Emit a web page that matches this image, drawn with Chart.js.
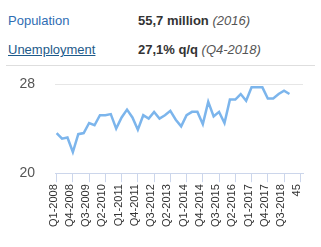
<!DOCTYPE html>
<html lang="en">
<head>
    <meta charset="UTF-8">
    <title>Unemployment</title>
    <script src="https://cdn.jsdelivr.net/npm/chart.js"></script>
    <style>
        body { margin: 0; background: #fff; font-family: "Liberation Sans", Arial, sans-serif; }
        .row { position: absolute; font-size: 13px; line-height: 15px; white-space: nowrap; }
        .name { left: 8px; color: #2f6db3; }
        .name.link { color: #1d5a8a; text-decoration: underline; }
        .val { left: 138px; color: #333; font-weight: bold; }
        .val i { font-weight: normal; color: #555; }
        #sep { position: absolute; left: 6px; width: 309px; top: 65px; height: 1px; background: #dedede; }
        #wrap { position: absolute; left: 0; top: 0; width: 321px; height: 247px; }
    </style>
</head>
<body>
    <div class="row name" style="top:13px">Population</div>
    <div class="row val" style="top:13px">55,7 million <i>(2016)</i></div>
    <div class="row name link" style="top:42px">Unemployment</div>
    <div class="row val" style="top:42px">27,1% q/q <i>(Q4-2018)</i></div>
    <div id="sep"></div>
    <div id="wrap"><canvas id="chart" width="321" height="247"></canvas></div>

    <script>
        // quarterly unemployment rate, %
        const quarters = [];
        for (let y = 2008; y <= 2018; y++) {
            for (let q = 1; q <= 4; q++) quarters.push('Q' + q + '-' + y);
        }
        const rates = [
            23.6, 23.1, 23.2, 21.9, 23.5, 23.6, 24.5, 24.3,
            25.2, 25.2, 25.3, 24.0, 25.0, 25.7, 25.0, 23.9,
            25.2, 24.9, 25.5, 24.9, 25.2, 25.6, 24.8, 24.2,
            25.2, 25.5, 25.5, 24.4, 26.4, 25.1, 25.5, 24.5,
            26.6, 26.6, 27.1, 26.5, 27.7, 27.7, 27.7, 26.7,
            26.7, 27.1, 27.4, 27.1
        ];
        const yTicks = [20, 28];
        const xTicks = [0, 3, 6, 9, 12, 15, 18, 21, 24, 27, 30, 33, 36, 39, 42, 45];

        const points = rates.map((v, i) => ({ x: i, y: v }));

        new Chart(document.getElementById('chart'), {
            type: 'line',
            data: {
                datasets: [{
                    data: points,
                    borderColor: '#7cb5ec',
                    borderWidth: 2.5,
                    pointRadius: 0,
                    tension: 0,
                    fill: false
                }]
            },
            options: {
                responsive: false,
                animation: false,
                layout: { padding: { top: 84, left: 0, right: 18, bottom: 18 } },
                plugins: { legend: { display: false }, tooltip: { enabled: false } },
                scales: {
                    x: {
                        type: 'linear',
                        min: -0.3,
                        max: 45.5,
                        border: { color: '#ccd6eb' },
                        grid: { drawOnChartArea: false, color: '#ccd6eb', tickLength: 9 },
                        afterBuildTicks: axis => { axis.ticks = xTicks.map(v => ({ value: v })); },
                        ticks: {
                            autoSkip: false,
                            maxRotation: 90,
                            minRotation: 90,
                            padding: 2,
                            labelOffset: -3,
                            color: '#333',
                            font: { family: 'Liberation Sans', size: 11 },
                            callback: v => quarters[v] || String(v)
                        }
                    },
                    y: {
                        min: yTicks[0],
                        max: yTicks[1],
                        border: { display: false },
                        grid: {
                            drawTicks: false,
                            color: ctx => ctx.tick && ctx.tick.value === 28 ? '#e6e6e6' : 'rgba(0,0,0,0)'
                        },
                        afterBuildTicks: axis => { axis.ticks = yTicks.map(v => ({ value: v })); },
                        afterFit: axis => { axis.width = 55; },
                        ticks: {
                            padding: 20,
                            color: '#555',
                            font: { family: 'Liberation Sans', size: 14 }
                        }
                    }
                }
            }
        });
    </script>
</body>
</html>
